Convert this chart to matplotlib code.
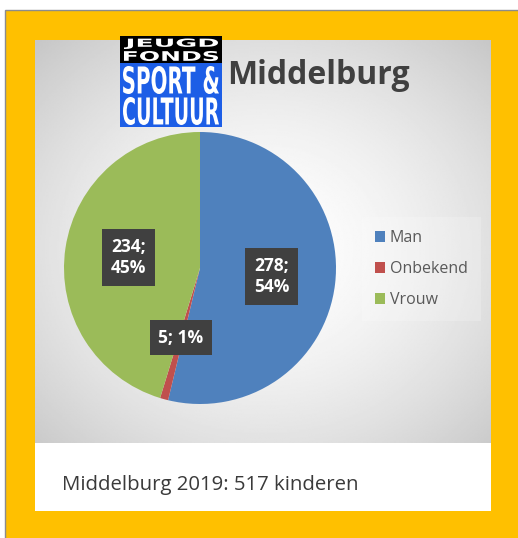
import numpy as np
import matplotlib.pyplot as plt
from matplotlib.patches import Rectangle, PathPatch
from matplotlib.textpath import TextPath
from matplotlib.font_manager import FontProperties
from matplotlib.transforms import Affine2D

# chart data
categories = ["Man", "Onbekend", "Vrouw"]
counts = [278, 5, 234]
colors = ["#4F81BD", "#C0504D", "#9BBB59"]
title = "Middelburg"
caption = "Middelburg 2019: 517 kinderen"

W, H = 518, 538
FONT = "Open Sans"


def fit_text(ax, s, x0, y0, x1, y1, color):
    """Draw text s squeezed into the pixel box (x0, y0)-(x1, y1)."""
    tp = TextPath((0, 0), s, size=10,
                  prop=FontProperties(family="DejaVu Sans", weight="bold"))
    bb = tp.get_extents()
    tr = (Affine2D().translate(-bb.x0, -bb.y0)
          .scale((x1 - x0) / bb.width, -(y1 - y0) / bb.height)
          .translate(x0, y1))
    ax.add_patch(PathPatch(tr.transform_path(tp), fc=color, ec="none",
                           zorder=4))


fig = plt.figure(figsize=(W / 100, H / 100), dpi=100)
bg = fig.add_axes([0, 0, 1, 1])
bg.set_xlim(0, W)
bg.set_ylim(H, 0)
bg.axis("off")

# orange frame with thin grey outline
bg.add_patch(Rectangle((5, 10), W, H, fc="#FFC000", ec="#8c8c8c", lw=1))

# grey radial gradient of the chart area
gx0, gx1, gy0, gy1 = 35, 491, 40, 443
xx, yy = np.meshgrid(np.linspace(gx0, gx1, 300), np.linspace(gy0, gy1, 300))
d = np.sqrt(((xx - 265) / (gx1 - gx0)) ** 2 + ((yy - 250) / (gy1 - gy0)) ** 2)
shade = 1 - 0.22 * np.clip(d / 0.72, 0, 1) ** 1.6
bg.imshow(shade, cmap="gray", vmin=0, vmax=1, extent=(gx0, gx1, gy1, gy0),
          aspect="auto", zorder=1)
# white caption strip
bg.add_patch(Rectangle((35, 443), 456, 68, fc="white", ec="none", zorder=1))
bg.text(62, 490, caption, fontsize=14.7, family=FONT, color="#3a3a3a",
        va="baseline", zorder=3)

# logo
bg.add_patch(Rectangle((120, 36), 102, 27, fc="black", ec="none", zorder=3))
bg.add_patch(Rectangle((120, 63), 102, 64, fc="#1D5EE6", ec="none", zorder=3))
fit_text(bg, "JEUGD", 124, 38.5, 218, 49, "white")
fit_text(bg, "FONDS", 124, 51, 218, 61, "white")
fit_text(bg, "SPORT &", 123, 66, 219, 94, "white")
fit_text(bg, "CULTUUR", 123, 97, 219, 125, "white")

bg.text(227, 84, title, fontsize=23, family=FONT, weight="bold",
        color="#404040", va="baseline", zorder=3)

# pie
cx, cy, r = 200, 268, 136
ax = fig.add_axes([(cx - r) / W, (H - cy - r) / H, 2 * r / W, 2 * r / H])
total = sum(counts)
labels = []
for c in counts:
    pct = round(100 * c / total)
    labels.append(f"{c};{' ' if pct < 5 else chr(10)}{pct}%")
wedges, _ = ax.pie(counts, colors=colors, startangle=90, counterclock=False,
                   radius=1, wedgeprops=dict(linewidth=0))
for w, lab in zip(wedges, labels):
    ang = np.deg2rad((w.theta1 + w.theta2) / 2)
    ax.text(0.53 * np.cos(ang), 0.53 * np.sin(ang), lab, ha="center",
            va="center", color="white", fontsize=12.5, family=FONT,
            weight="bold", linespacing=1.25,
            bbox=dict(boxstyle="square,pad=0.5", fc="#404040", ec="none"))
ax.set_xlim(-1, 1)
ax.set_ylim(-1, 1)

leg = fig.legend(wedges, categories, loc="center left",
                 bbox_to_anchor=(362 / W, (H - 269) / H),
                 prop=FontProperties(family=FONT, size=11.5),
                 handlelength=0.65, handleheight=0.65, handletextpad=0.3,
                 labelspacing=0.95, borderpad=0.8, borderaxespad=0,
                 frameon=True, fancybox=False)
leg.get_frame().set_facecolor("white")
leg.get_frame().set_alpha(0.2)
leg.get_frame().set_linewidth(0)
for t in leg.get_texts():
    t.set_color("#595959")

fig.savefig("out.png", dpi=100)
